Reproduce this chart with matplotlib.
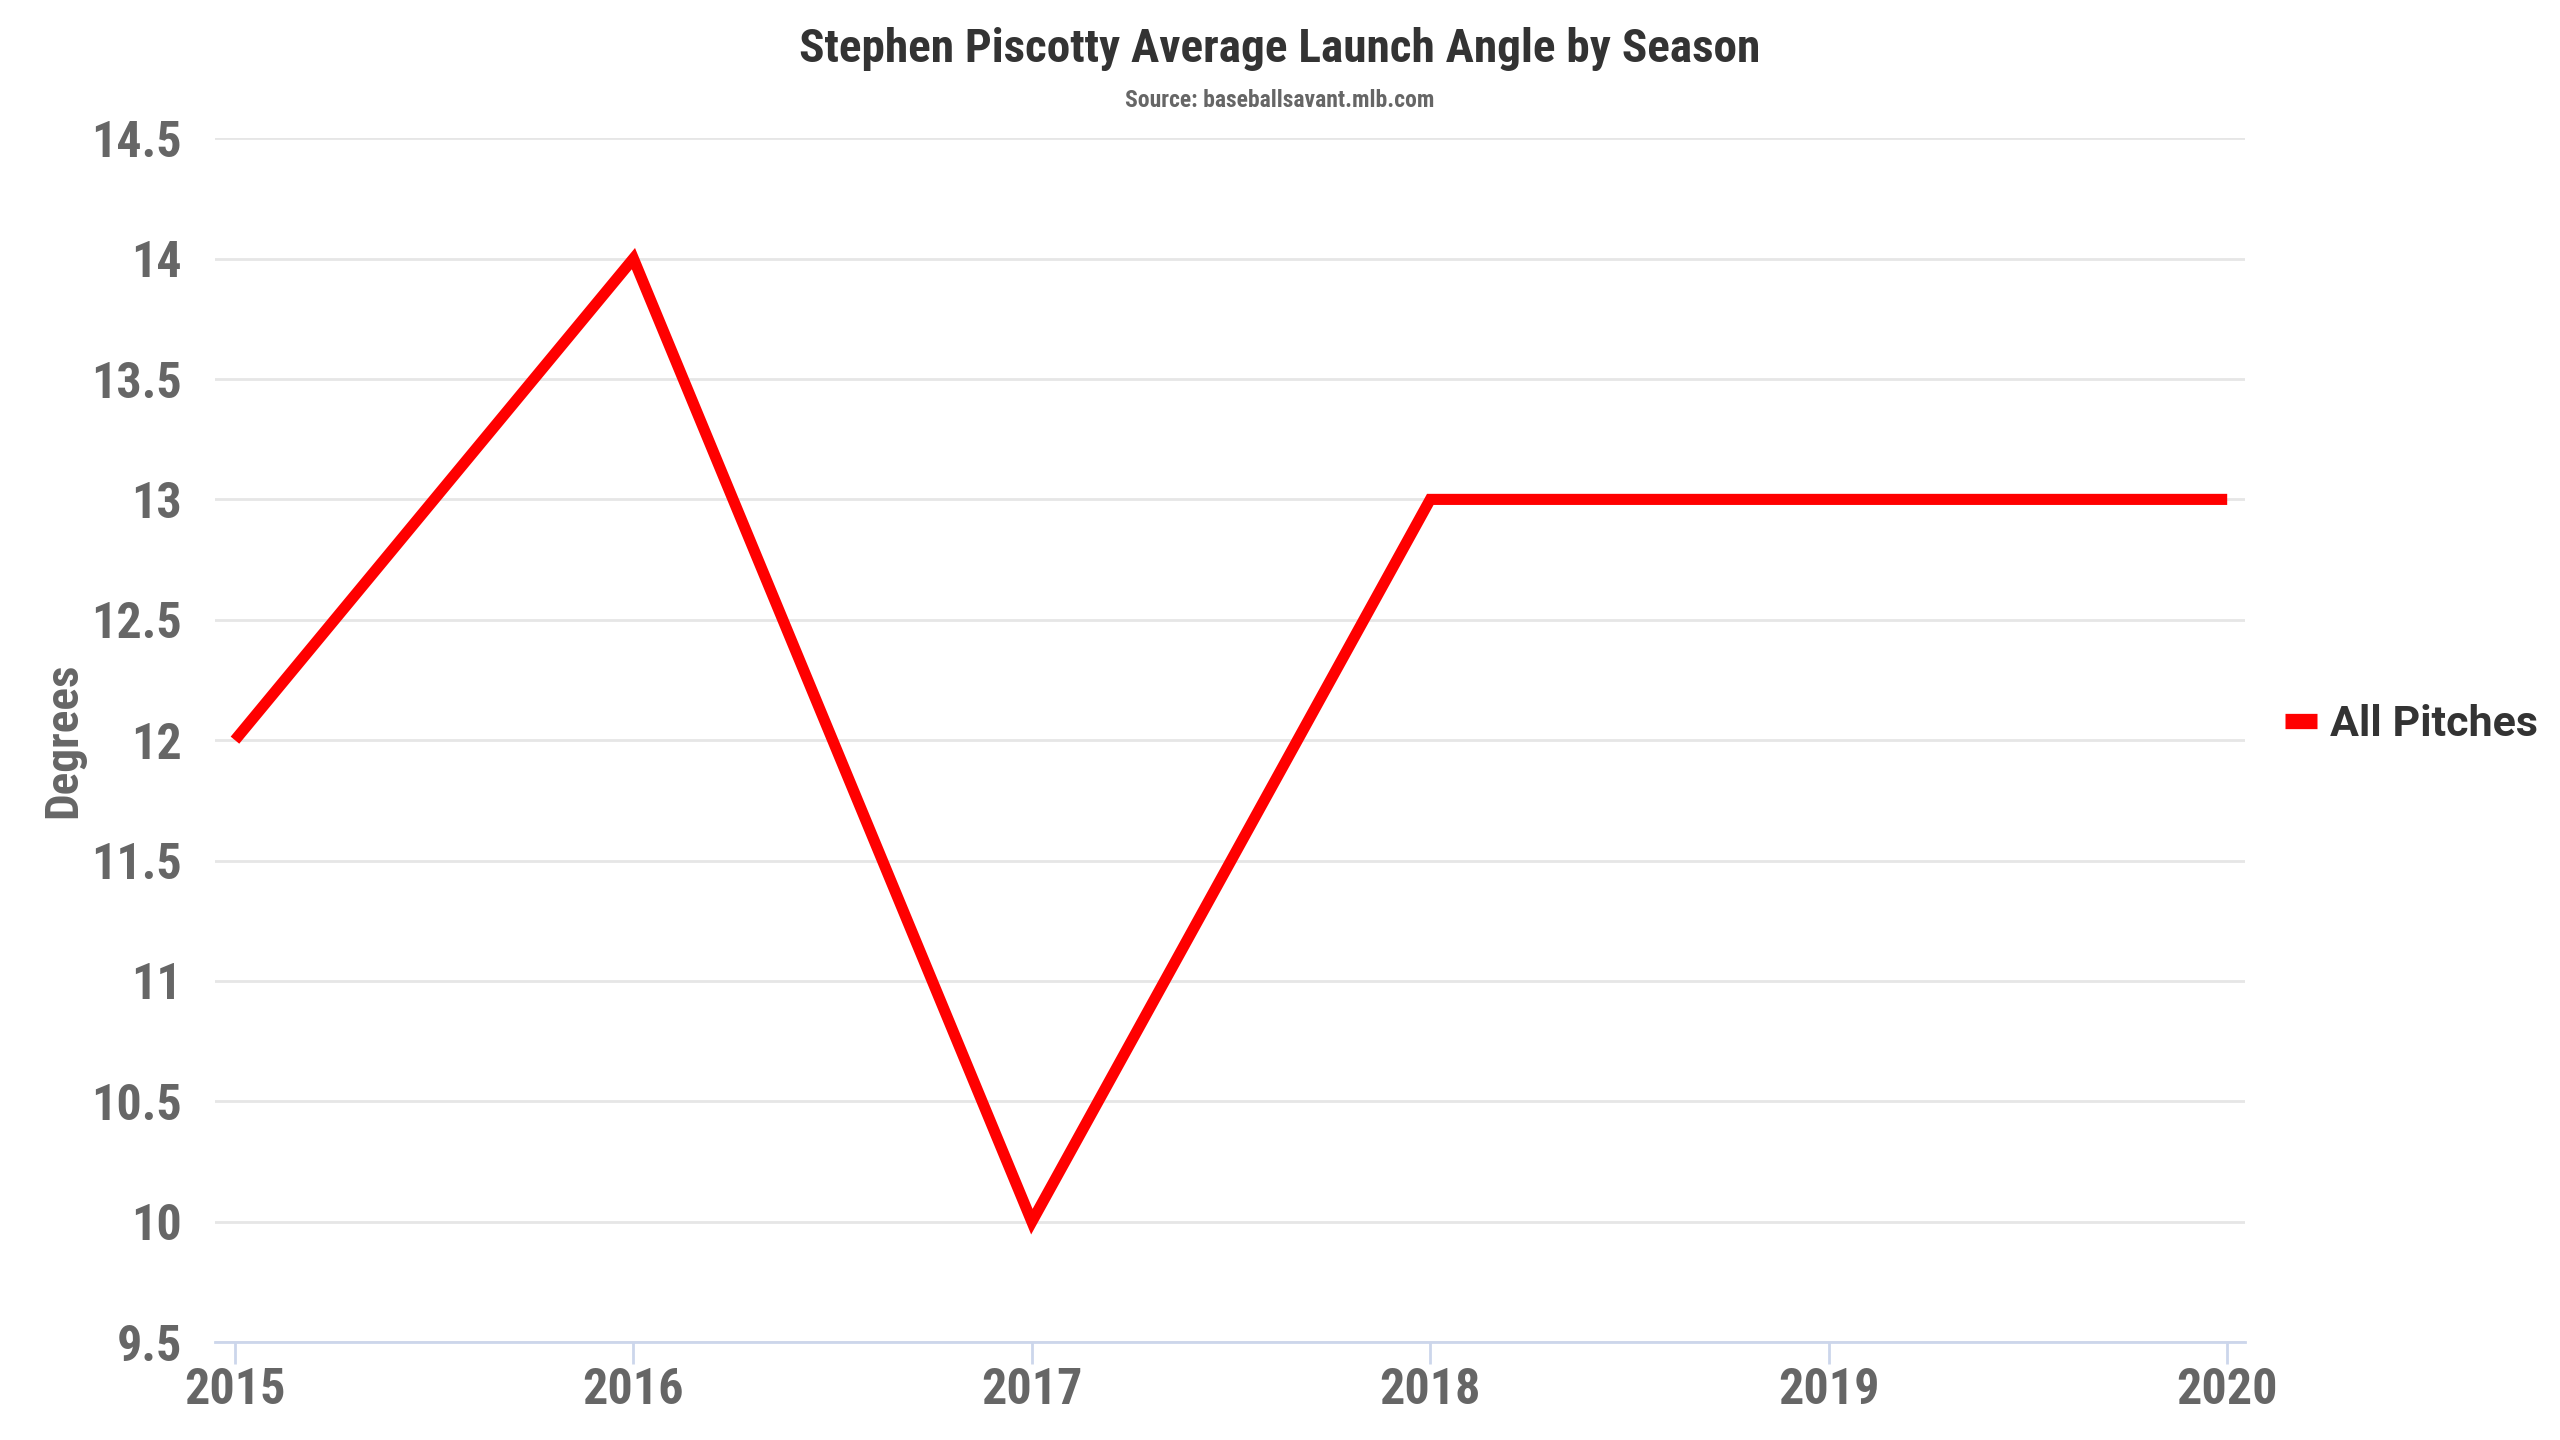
import matplotlib
matplotlib.use("Agg")
import matplotlib.pyplot as plt
from matplotlib import font_manager
from matplotlib.lines import Line2D

seasons = [2015, 2016, 2017, 2018, 2019, 2020]
launch_angle = [12, 14, 10, 13, 13, 13]
y_ticks = [9.5, 10, 10.5, 11, 11.5, 12, 12.5, 13, 13.5, 14, 14.5]
y_tick_labels = ["9.5", "10", "10.5", "11", "11.5", "12", "12.5", "13", "13.5", "14", "14.5"]

names = {f.name for f in font_manager.fontManager.ttflist}
cond = [f for f in ["Roboto Condensed", "Liberation Sans Narrow"] if f in names]
COND = cond + ["Roboto", "DejaVu Sans"]
REG = ["Roboto", "DejaVu Sans"]

fig = plt.figure(figsize=(25.6, 14.4), dpi=100)
ax = fig.add_axes([0.084, 0.068, 0.793, 0.836])

ax.plot(seasons, launch_angle, color="#ff0000", linewidth=8,
        solid_joinstyle="miter", solid_capstyle="butt")

ax.set_xlim(2014.95, 2020.045)
ax.set_ylim(9.5, 14.5)
ax.set_yticks(y_ticks)
ax.set_yticklabels(y_tick_labels)
ax.set_xticks(seasons)
ax.set_xticklabels([str(s) for s in seasons])

ax.grid(axis="y", color="#e6e6e6", linewidth=2)
ax.set_axisbelow(True)
for side in ["top", "right", "left"]:
    ax.spines[side].set_visible(False)
ax.spines["bottom"].set_color("#ccd6eb")
ax.spines["bottom"].set_linewidth(2)

ax.tick_params(axis="y", length=0, pad=24)
ax.tick_params(axis="x", length=16, width=2, color="#ccd6eb", direction="out", pad=2)
for lbl in ax.get_xticklabels() + ax.get_yticklabels():
    lbl.set_family(COND)
    lbl.set_fontweight("bold")
    lbl.set_fontsize(36)
    lbl.set_color("#666666")

ax.set_ylabel("Degrees", family=COND, fontweight="bold", fontsize=34,
              color="#666666", labelpad=4)

fig.text(0.5, 0.981, "Stephen Piscotty Average Launch Angle by Season",
         ha="center", va="top", family=COND, fontweight="bold",
         fontsize=34, color="#333333")
fig.text(0.5, 0.938, "Source: baseballsavant.mlb.com",
         ha="center", va="top", family=COND, fontweight="bold",
         fontsize=17, color="#666666")

handle = Line2D([0], [0], color="#ff0000", linewidth=11, solid_capstyle="butt")
leg = fig.legend([handle], ["All Pitches"], loc="center left",
                 bbox_to_anchor=(0.884, 0.497), frameon=False,
                 handlelength=0.75, handletextpad=0.3, borderpad=0,
                 prop={"family": REG, "weight": "bold", "size": 31})
for t in leg.get_texts():
    t.set_color("#333333")

fig.savefig("out.png", dpi=100)
